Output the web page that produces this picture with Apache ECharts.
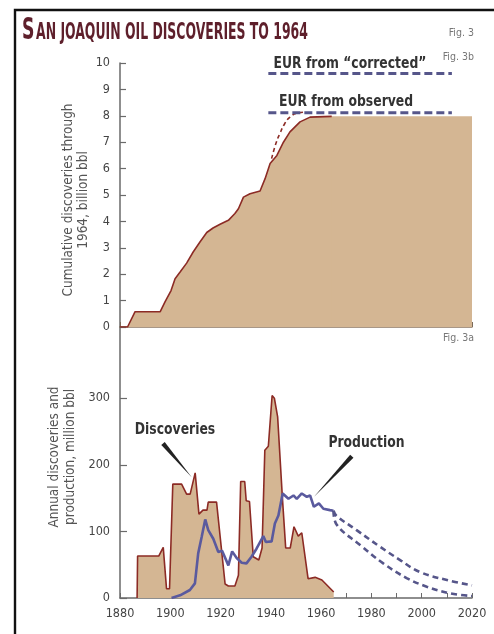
<!DOCTYPE html>
<html><head><meta charset="utf-8">
<script src="https://cdn.jsdelivr.net/npm/echarts@6/dist/echarts.min.js"></script>
<style>html,body{margin:0;padding:0;background:#fff;}#c{width:494px;height:634px;}</style>
</head><body><div id="c"></div>
<script>
// ---- data ----
const cumYears  = [1880,1883,1886,1896,1897.9,1900.3,1901.9,1903.9,1906.5,1909.1,1911.8,1914.5,1917,1919.8,1923.1,1925.7,1927.1,1929.1,1931.7,1935.7,1937.7,1939.7,1942.4,1945,1947.6,1951.6,1955.6,1964.2];
const cumValues = [0,0,0.58,0.58,0.95,1.38,1.83,2.08,2.42,2.84,3.22,3.58,3.75,3.89,4.04,4.3,4.48,4.92,5.05,5.15,5.62,6.19,6.5,7.0,7.39,7.77,7.95,7.98];
const cumPlateauYears = [1955.6,1964.2,2020];
const cumPlateauValues = [7.95,7.98,7.98];
const corrYears  = [1940.3,1942,1943.6,1945.5,1947.6,1950.5,1954];
const corrValues = [6.38,6.95,7.33,7.7,7.95,8.1,8.14];
const eurYears = [1939,2012];
const eurObserved = 8.12;
const eurCorrected = 9.6;

const discYears  = [1886.8,1887,1895.4,1897.2,1898.5,1899.7,1901,1904.5,1906.5,1907.9,1909.9,1911.4,1913,1914.6,1915.1,1918.4,1921.8,1923.1,1925.7,1927.1,1928,1929.6,1930.2,1931.5,1933,1935.2,1936.5,1937.6,1939,1940.5,1941.4,1942.7,1944.6,1945.9,1947.7,1949.2,1950.9,1952.3,1954.8,1957.6,1960.3,1965];
const discValues = [0,63,63,76,14,14,171,171,156,156,188,126,132,132,144,144,21,18,18,34,175,175,146,145,62,57,75,222,228,304,300,272,150,75,75,107,93,98,29,31,27,9];

const prodYears  = [1900.5,1903.9,1907.8,1909.8,1911.1,1912.5,1913.9,1915.1,1917.1,1919.1,1920.6,1923.1,1924.6,1926.4,1928.4,1930.3,1932.3,1934.3,1937,1938,1940.3,1941.6,1943,1944.7,1947,1949,1950.3,1952.3,1954.3,1955.6,1957.1,1959.1,1960.9,1963.5,1964.9];
const prodValues = [0,4,12,22,67,92,118,102,89,69,71,49,70,60,53,52,62,74,93,84,85,112,124,157,149,154,149,157,152,154,137,142,134,132,131];

const projHighYears  = [1964.9,1966.2,1974.1,1983.4,1991.4,1999.3,2010,2020];
const projHighValues = [131,123,102,77,57,39,27,19];
const projLowYears   = [1964.9,1966.2,1975.7,1984.7,1994,2002,2011.2,2020];
const projLowValues  = [131,110,79,52,30,17,7,3];

const topYTicks = [0,1,2,3,4,5,6,7,8,9,10];
const botYTicks = [0,100,200,300];
const xLabelYears = [1880,1900,1920,1940,1960,1980,2000,2020];

const zip = (a,b) => a.map((v,i)=>[v,b[i]]);

// ---- styles ----
const NARROW = '"Liberation Sans Narrow","DejaVu Sans Condensed","Arial Narrow",sans-serif';
const TAN = '#d4b693';
const RED = '#8c2b25';
const BLUE = '#5a5a9e';
const DASHBLUE = '#56568a';
const AXIS = '#6a6a6a';

const chart = echarts.init(document.getElementById('c'), null, {renderer:'canvas'});

const option = {
  animation:false,
  backgroundColor:'#fff',
  grid:[
    {left:120, right:22, top:63, height:264},
    {left:120, right:22, top:327, height:271}
  ],
  xAxis:[
    {type:'value', gridIndex:0, min:1880, max:2020, interval:10,
     axisLine:{show:true, onZero:false, lineStyle:{color:'#8c7560', width:1.5}},
     axisTick:{show:true, inside:true, length:5, lineStyle:{color:'#7a6a5a', width:1}},
     axisLabel:{show:false}, splitLine:{show:false}},
    {type:'value', gridIndex:1, min:1880, max:2020, interval:10,
     axisLine:{show:true, onZero:false, lineStyle:{color:AXIS, width:1.5}},
     axisTick:{show:true, inside:true, length:5, lineStyle:{color:AXIS, width:1}},
     axisLabel:{show:true, customValues:xLabelYears, formatter:v=>String(v), margin:9, color:'#444', fontSize:12.5, fontFamily:NARROW},
     splitLine:{show:false}}
  ],
  yAxis:[
    {type:'value', gridIndex:0, min:0, max:10, interval:1,
     axisLine:{show:true, onZero:false, lineStyle:{color:AXIS, width:1.5}},
     axisTick:{show:true, inside:true, length:6, customValues:topYTicks, lineStyle:{color:AXIS, width:1.2}},
     axisLabel:{show:true, customValues:topYTicks, margin:10, color:'#444', fontSize:12.5, fontFamily:NARROW},
     splitLine:{show:false}},
    {type:'value', gridIndex:1, min:0, max:407,
     axisLine:{show:true, onZero:false, lineStyle:{color:AXIS, width:1.5}},
     axisTick:{show:true, inside:true, length:7, customValues:botYTicks, lineStyle:{color:AXIS, width:1.2}},
     axisLabel:{show:true, customValues:botYTicks, margin:10, color:'#444', fontSize:12.5, fontFamily:NARROW},
     splitLine:{show:false}}
  ],
  series:[
    {type:'line', xAxisIndex:0, yAxisIndex:0, data:zip(cumPlateauYears,cumPlateauValues), symbol:'none',
     lineStyle:{width:0}, areaStyle:{color:TAN, opacity:1}, z:2},
    {type:'line', xAxisIndex:0, yAxisIndex:0, data:zip(cumYears,cumValues), symbol:'none',
     lineStyle:{color:RED, width:1.6}, areaStyle:{color:TAN, opacity:1}, z:3},
    {type:'line', xAxisIndex:0, yAxisIndex:0, data:zip(corrYears,corrValues), symbol:'none', smooth:true,
     lineStyle:{color:RED, width:1.6, type:[4,3]}, z:4},
    {type:'line', xAxisIndex:0, yAxisIndex:0, data:eurYears.map(y=>[y,eurObserved]), symbol:'none',
     lineStyle:{color:DASHBLUE, width:3, type:[8,4]}, z:5},
    {type:'line', xAxisIndex:0, yAxisIndex:0, data:eurYears.map(y=>[y,eurCorrected]), symbol:'none',
     lineStyle:{color:DASHBLUE, width:3, type:[8,4]}, z:5},
    {type:'line', xAxisIndex:1, yAxisIndex:1, data:zip(discYears,discValues), symbol:'none',
     lineStyle:{color:RED, width:1.6}, areaStyle:{color:TAN, opacity:1}, z:3},
    {type:'line', xAxisIndex:1, yAxisIndex:1, data:zip(prodYears,prodValues), symbol:'none',
     lineStyle:{color:BLUE, width:2.6}, z:4},
    {type:'line', xAxisIndex:1, yAxisIndex:1, data:zip(projHighYears,projHighValues), symbol:'none', smooth:0.4,
     lineStyle:{color:DASHBLUE, width:2.6, type:[6,4]}, z:4},
    {type:'line', xAxisIndex:1, yAxisIndex:1, data:zip(projLowYears,projLowValues), symbol:'none', smooth:0.4,
     lineStyle:{color:DASHBLUE, width:2.6, type:[6,4]}, z:4}
  ]
};
chart.setOption(option);

function wedge(p0, p1, w){
  const dx=p1[0]-p0[0], dy=p1[1]-p0[1], L=Math.hypot(dx,dy);
  const nx=-dy/L*w/2, ny=dx/L*w/2;
  return [[p0[0]+nx,p0[1]+ny],[p0[0]-nx,p0[1]-ny],[p1[0],p1[1]]];
}
const px = (g,p) => chart.convertToPixel({gridIndex:g}, p);
const discW = wedge(px(1,[1897.1,232]), px(1,[1908.6,181]), 4.5);
const prodW = wedge(px(1,[1972.2,213]), px(1,[1957.2,152]), 4.5);

const lbl = {font:'bold 16px '+NARROW, fill:'#333', align:'center', verticalAlign:'middle'};
const L = (t,x,y) => ({type:'text', x, y, scaleX:0.86, style:Object.assign({text:t}, lbl)});
chart.setOption({graphic:[
  {type:'polyline', shape:{points:[[15,634],[15,10],[494,10]]}, style:{stroke:'#111', lineWidth:2.4, fill:null}},
  {type:'text', x:22, y:46, scaleX:0.62, style:{text:'S', font:'bold 31px '+NARROW, fill:'#5e1f2b', verticalAlign:'bottom'}},
  {type:'text', x:36, y:45, scaleX:0.615, style:{text:'AN JOAQUIN OIL DISCOVERIES TO 1964', font:'bold 22.5px '+NARROW, fill:'#5e1f2b', verticalAlign:'bottom'}},
  {type:'text', x:474, y:33, style:{text:'Fig. 3', font:'10.5px '+NARROW, fill:'#777', align:'right', verticalAlign:'middle'}},
  {type:'text', x:474, y:57, style:{text:'Fig. 3b', font:'10.5px '+NARROW, fill:'#777', align:'right', verticalAlign:'middle'}},
  {type:'text', x:474, y:338, style:{text:'Fig. 3a', font:'10.5px '+NARROW, fill:'#777', align:'right', verticalAlign:'middle'}},
  {type:'text', x:75.5, y:200, rotation:Math.PI/2, style:{text:'Cumulative discoveries through\n1964, billion bbl', font:'13.5px '+NARROW, fill:'#555', align:'center', verticalAlign:'middle', lineHeight:15}},
  {type:'text', x:62, y:457, rotation:Math.PI/2, style:{text:'Annual discoveries and\nproduction, million bbl', font:'13.5px '+NARROW, fill:'#555', align:'center', verticalAlign:'middle', lineHeight:16}},
  L('EUR from \u201Ccorrected\u201D', 350, 64),
  L('EUR from observed', 346, 102),
  L('Discoveries', 175, 430),
  L('Production', 366.5, 443),
  {type:'polygon', shape:{points:discW}, style:{fill:'#222'}, z:10},
  {type:'polygon', shape:{points:prodW}, style:{fill:'#222'}, z:10}
]});
</script></body></html>
